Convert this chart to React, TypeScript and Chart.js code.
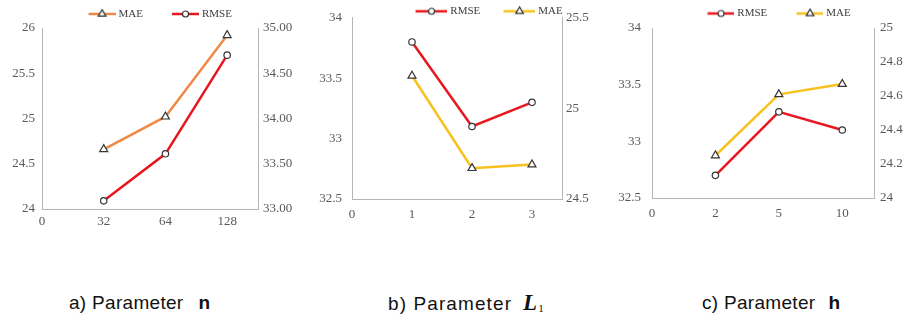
import React, { useEffect, useRef } from 'react';
import { Chart, registerables } from 'chart.js';

Chart.register(...registerables);

// ---------- data ----------
const catsA = ['0', '32', '64', '128'];
const maeA = [24.66, 25.02, 25.92];
const rmseA = [33.09, 33.61, 34.7];

const catsB = ['0', '1', '2', '3'];
const rmseB = [33.8, 33.1, 33.3];
const maeB = [25.18, 24.67, 24.69];

const catsC = ['0', '2', '5', '10'];
const rmseC = [32.7, 33.26, 33.1];
const maeC = [24.25, 24.61, 24.67];

const ORANGE = '#EE8A45';
const RED = '#E8161E';
const GOLD = '#F7C21E';
const MARK_BORDER = '#333333';
const AXIS = '#B5B5B5';
const TICK = '#595959';
const SERIF = "'Liberation Serif', 'Times New Roman', serif";

Chart.defaults.font.family = SERIF;

function makeLegendImg(color: string, style: string, B: number, lline: number) {
  const W = B + 5;
  const H = 12;
  const c = document.createElement('canvas');
  c.width = W;
  c.height = H;
  const ctx = c.getContext('2d')!;
  ctx.strokeStyle = color;
  ctx.lineWidth = 2.5;
  ctx.beginPath();
  ctx.moveTo(W - lline, H / 2);
  ctx.lineTo(W, H / 2);
  ctx.stroke();
  const cx = W - lline / 2;
  const cy = H / 2;
  ctx.fillStyle = '#fff';
  ctx.strokeStyle = MARK_BORDER;
  ctx.lineWidth = 1.2;
  ctx.beginPath();
  if (style === 'triangle') {
    const r = 4.4;
    ctx.moveTo(cx, cy - r);
    ctx.lineTo(cx + r * 0.866, cy + r / 2);
    ctx.lineTo(cx - r * 0.866, cy + r / 2);
    ctx.closePath();
  } else {
    ctx.arc(cx, cy, 3, 0, Math.PI * 2);
  }
  ctx.fill();
  ctx.stroke();
  return c;
}

type Series = { label: string; values: number[]; color: string; style: string; axis: string };
type AxisSpec = { min: number; max: number; step: number; fmt: (v: number) => string; pad: number; width: number };

type PanelSpec = {
  cats: string[];
  series: Series[];
  yL: AxisSpec;
  yR: AxisSpec;
  xPad: number;
  xHeight: number;
  padL: number;
  padR: number;
  legendP: number;
  legendMaxH: number;
  legendB: number;
  legendLine: number;
  legendAlign: 'start' | 'center' | 'end';
};

const fmt2 = (v: number) => v.toFixed(2);
const fmtShort = (v: number) => String(Number(v.toFixed(2)));

function buildConfig(p: PanelSpec): any {
  const datasets = p.series.map((s) => ({
    label: s.label,
    data: s.values.map((v, i) => ({ x: i + 1, y: v })),
    borderColor: s.color,
    backgroundColor: s.color,
    borderWidth: 2.5,
    pointStyle: s.style,
    pointRadius: s.style === 'triangle' ? 4.6 : 3.2,
    pointBackgroundColor: '#ffffff',
    pointBorderColor: MARK_BORDER,
    pointBorderWidth: 1.2,
    yAxisID: s.axis,
    tension: 0,
    clip: false,
  }));
  const yAxis = (a: AxisSpec, position: 'left' | 'right') => ({
    type: 'linear',
    position,
    min: a.min,
    max: a.max,
    grid: { display: false, drawTicks: false, drawOnChartArea: false },
    border: { display: true, color: AXIS, width: 1 },
    ticks: {
      stepSize: a.step,
      padding: a.pad,
      color: TICK,
      font: { family: SERIF, size: 13 },
      callback: (v: number) => a.fmt(v),
    },
    afterFit: (s: any) => {
      s.width = a.width;
    },
  });
  return {
    type: 'line',
    data: { datasets },
    options: {
      responsive: false,
      animation: false,
      devicePixelRatio: 1,
      layout: { padding: { left: p.padL, right: p.padR, top: 0, bottom: 0 } },
      scales: {
        x: {
          type: 'linear',
          min: 0,
          max: 3.5,
          grid: { display: false, drawTicks: false },
          border: { display: true, color: AXIS, width: 1 },
          afterBuildTicks: (s: any) => {
            s.ticks = p.cats.map((_, i) => ({ value: i }));
          },
          ticks: {
            autoSkip: false,
            maxRotation: 0,
            padding: p.xPad,
            color: TICK,
            font: { family: SERIF, size: 13 },
            callback: (v: number) => p.cats[v] ?? '',
          },
          afterFit: (s: any) => {
            s.height = p.xHeight;
          },
        },
        yL: yAxis(p.yL, 'left'),
        yR: yAxis(p.yR, 'right'),
      },
      plugins: {
        tooltip: { enabled: false },
        legend: {
          display: true,
          position: 'top',
          align: p.legendAlign,
          maxHeight: p.legendMaxH,
          labels: {
            usePointStyle: true,
            pointStyleWidth: p.legendB,
            padding: p.legendP,
            color: '#404040',
            font: { family: SERIF, size: 11 },
            generateLabels: () =>
              p.series.map((s, i) => ({
                text: s.label,
                pointStyle: makeLegendImg(s.color, s.style, p.legendB, p.legendLine),
                fillStyle: 'rgba(0,0,0,0)',
                strokeStyle: 'rgba(0,0,0,0)',
                lineWidth: 0,
                hidden: false,
                datasetIndex: i,
                fontColor: '#404040',
              })),
          },
        },
      },
    },
  };
}

const panelA: PanelSpec = {
  cats: catsA,
  series: [
    { label: 'MAE', values: maeA, color: ORANGE, style: 'triangle', axis: 'yL' },
    { label: 'RMSE', values: rmseA, color: RED, style: 'circle', axis: 'yR' },
  ],
  yL: { min: 24, max: 26, step: 0.5, fmt: fmtShort, pad: 7, width: 42 },
  yR: { min: 33, max: 35, step: 0.5, fmt: fmt2, pad: 5, width: 42 },
  xPad: 5,
  xHeight: 31,
  padL: 0,
  padR: 20,
  legendP: 8.5,
  legendMaxH: 28,
  legendB: 45,
  legendLine: 27,
  legendAlign: 'center',
};

const panelB: PanelSpec = {
  cats: catsB,
  series: [
    { label: 'RMSE', values: rmseB, color: RED, style: 'circle', axis: 'yL' },
    { label: 'MAE', values: maeB, color: GOLD, style: 'triangle', axis: 'yR' },
  ],
  yL: { min: 32.5, max: 34, step: 0.5, fmt: fmtShort, pad: 10, width: 47 },
  yR: { min: 24.5, max: 25.5, step: 0.5, fmt: fmtShort, pad: 4, width: 92 },
  xPad: 8,
  xHeight: 41,
  padL: 0,
  padR: 0,
  legendP: 4,
  legendMaxH: 16,
  legendB: 48.5,
  legendLine: 32,
  legendAlign: 'center',
};

const panelC: PanelSpec = {
  cats: catsC,
  series: [
    { label: 'RMSE', values: rmseC, color: RED, style: 'circle', axis: 'yL' },
    { label: 'MAE', values: maeC, color: GOLD, style: 'triangle', axis: 'yR' },
  ],
  yL: { min: 32.5, max: 34, step: 0.5, fmt: fmtShort, pad: 11, width: 47 },
  yR: { min: 24, max: 25, step: 0.2, fmt: fmtShort, pad: 6, width: 58 },
  xPad: 7.5,
  xHeight: 42,
  padL: 0,
  padR: 28,
  legendP: 8,
  legendMaxH: 28,
  legendB: 45.5,
  legendLine: 27,
  legendAlign: 'center',
};

function Panel({ spec, left, width }: { spec: PanelSpec; left: number; width: number }) {
  const ref = useRef<HTMLCanvasElement | null>(null);
  useEffect(() => {
    if (!ref.current) return;
    const chart = new Chart(ref.current, buildConfig(spec));
    return () => chart.destroy();
  }, []);
  return (
    <canvas
      ref={ref}
      width={width}
      height={240}
      style={{ position: 'absolute', left, top: 0, width, height: 240 }}
    />
  );
}

const captionStyle: React.CSSProperties = {
  position: 'absolute',
  top: 292,
  fontFamily: "'Liberation Sans', Arial, Helvetica, sans-serif",
  fontSize: 19,
  lineHeight: '22px',
  color: '#111',
  whiteSpace: 'nowrap',
};

export default function App() {
  return (
    <div
      style={{
        position: 'absolute',
        left: 0,
        top: 0,
        width: 907,
        height: 320,
        overflow: 'hidden',
        background: '#fff',
      }}
    >
      <Panel spec={panelA} left={0} width={320} />
      <Panel spec={panelB} left={305} width={349} />
      <Panel spec={panelC} left={605} width={355} />
      <div style={{ ...captionStyle, left: 69, letterSpacing: 0.3 }}>
        a) Parameter<b style={{ marginLeft: 15, letterSpacing: 0 }}>n</b>
      </div>
      <div style={{ ...captionStyle, left: 388 }}>
        <span style={{ letterSpacing: 1.1 }}>b) Parameter</span>
        <span
          style={{
            fontFamily: SERIF,
            fontStyle: 'italic',
            fontWeight: 'bold',
            fontSize: 23,
            marginLeft: 11,
          }}
        >
          L
        </span>
        <span style={{ fontFamily: SERIF, fontSize: 11, verticalAlign: -2, marginLeft: 1 }}>1</span>
      </div>
      <div style={{ ...captionStyle, left: 702, letterSpacing: 0.3 }}>
        c) Parameter<b style={{ marginLeft: 13, letterSpacing: 0 }}>h</b>
      </div>
    </div>
  );
}
